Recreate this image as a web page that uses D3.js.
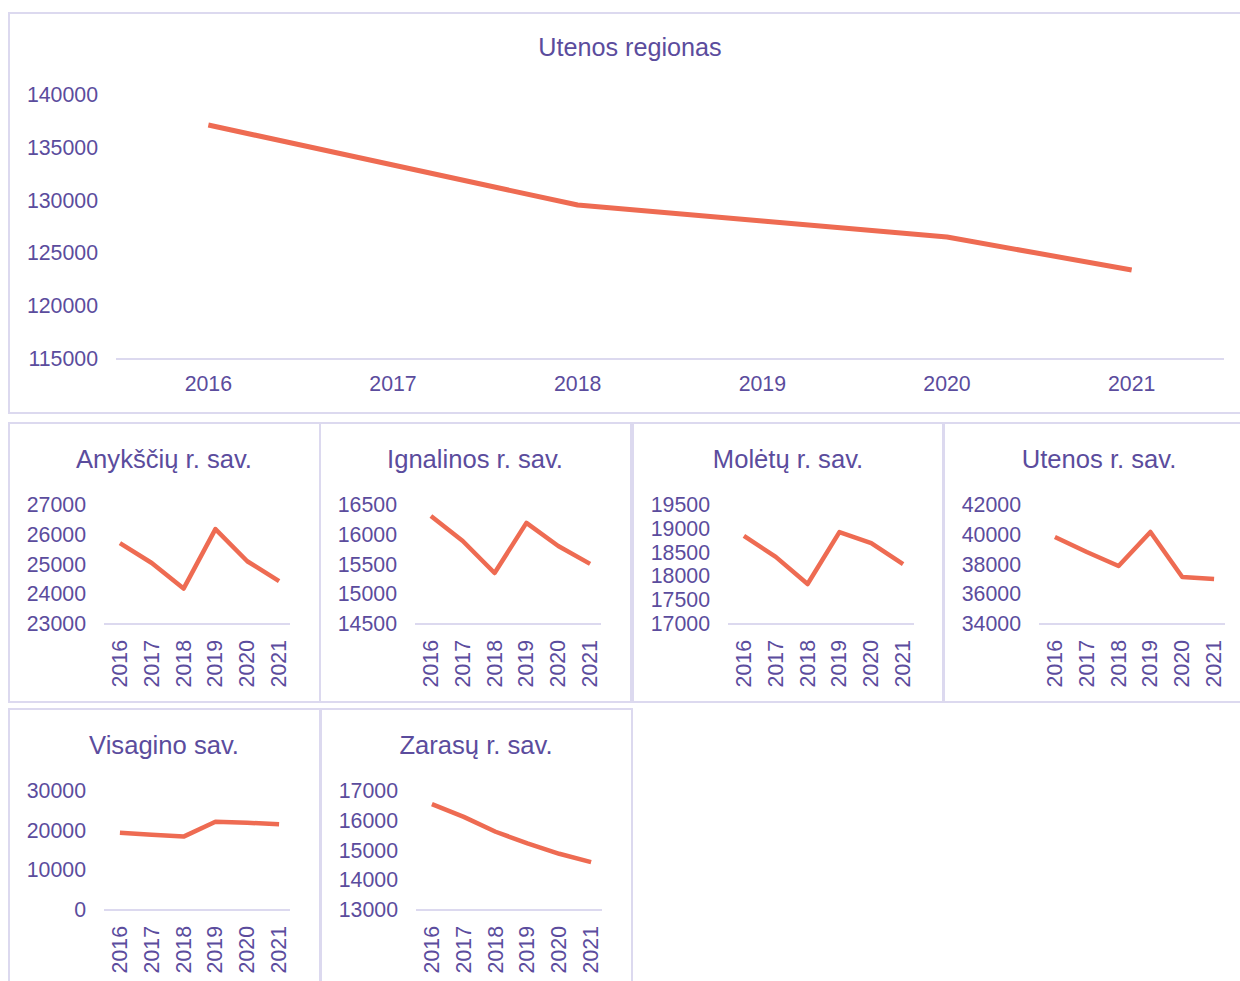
<!DOCTYPE html>
<html>
<head>
  <meta charset="UTF-8">
  <style>
    body { margin: 0; background: #fff; }
    text { font-family: "Liberation Sans", Arial, sans-serif; fill: #5b4c9d; }
    .frame { fill: none; stroke: #dcd9ef; stroke-width: 2px; }
    .baseline { stroke: #dcd9ef; stroke-width: 2px; }
    .series { fill: none; stroke: #ee6b52; stroke-linejoin: round; }
  </style>
</head>
<body>
<svg></svg>
<script src="https://d3js.org/d3.v7.min.js"></script>
<script>

// data
const years = ["2016", "2017", "2018", "2019", "2020", "2021"];

const regionTitle = "Utenos regionas";
const regionValues = [137160, 133370, 129580, 128070, 126550, 123430];
const regionTicks = [115000, 120000, 125000, 130000, 135000, 140000];

const panelTitles = ["Anykščių r. sav.", "Ignalinos r. sav.", "Molėtų r. sav.",
                     "Utenos r. sav.", "Visagino sav.", "Zarasų r. sav."];

const anyksciuValues = [25720, 25050, 24190, 26190, 25110, 24440];
const ignalinosValues = [16315, 15895, 15357, 16200, 15810, 15510];
const moletuValues = [18850, 18410, 17840, 18930, 18700, 18260];
const utenosValues = [39850, 38840, 37900, 40190, 37160, 37030];
const visaginoValues = [19500, 19000, 18500, 22250, 22000, 21600];
const zarasuValues = [16560, 16130, 15630, 15240, 14890, 14610];

const anyksciuTicks = [23000, 24000, 25000, 26000, 27000];
const ignalinosTicks = [14500, 15000, 15500, 16000, 16500];
const moletuTicks = [17000, 17500, 18000, 18500, 19000, 19500];
const utenosTicks = [34000, 36000, 38000, 40000, 42000];
const visaginoTicks = [0, 10000, 20000, 30000];
const zarasuTicks = [13000, 14000, 15000, 16000, 17000];

const panelValues = [anyksciuValues, ignalinosValues, moletuValues,
                     utenosValues, visaginoValues, zarasuValues];
const panelTicks = [anyksciuTicks, ignalinosTicks, moletuTicks,
                    utenosTicks, visaginoTicks, zarasuTicks];

let width = 1240, height = 981;

let svg = d3.select("svg")
    .attr("width", width)
    .attr("height", height);

// ---- big region chart
let main = svg.append("g");
main.append("rect").attr("class", "frame")
    .attr("x", 9).attr("y", 13).attr("width", 1250).attr("height", 400);

main.append("text")
    .attr("x", 630).attr("y", 47)
    .attr("text-anchor", "middle").attr("dominant-baseline", "central")
    .style("font-size", "25.2px")
    .text(regionTitle);

let xMain = d3.scaleBand().domain(years).range([116, 1224]);
let yMain = d3.scaleLinear()
    .domain([regionTicks[0], regionTicks[regionTicks.length - 1]])
    .range([359, 95]);

main.append("line").attr("class", "baseline")
    .attr("x1", 116).attr("x2", 1224)
    .attr("y1", yMain(regionTicks[0])).attr("y2", yMain(regionTicks[0]));

main.selectAll(".ytick")
  .data(regionTicks)
  .enter()
  .append("text")
    .attr("x", 98)
    .attr("y", d => yMain(d))
    .attr("text-anchor", "end").attr("dominant-baseline", "central")
    .style("font-size", "21.3px")
    .text(d => d);

main.selectAll(".xtick")
  .data(years)
  .enter()
  .append("text")
    .attr("x", d => xMain(d) + xMain.bandwidth() / 2)
    .attr("y", 384)
    .attr("text-anchor", "middle").attr("dominant-baseline", "central")
    .style("font-size", "21.3px")
    .text(d => d);

main.append("path")
    .datum(regionValues)
    .attr("class", "series")
    .attr("stroke-width", 5)
    .attr("d", d3.line()
        .x((d, i) => xMain(years[i]) + xMain.bandwidth() / 2)
        .y(d => yMain(d)));

// ---- small multiples
let panelLefts = [9, 320, 633, 944, 9, 321];
let panelTops = [423, 423, 423, 423, 709, 709];
let panelWidths = [311, 311, 310, 310, 311, 311];

panelTitles.forEach((title, k) => {
  let x0 = panelLefts[k], y0 = panelTops[k];
  let ticks = panelTicks[k];
  let g = svg.append("g").attr("transform", "translate(" + x0 + "," + y0 + ")");

  g.append("rect").attr("class", "frame")
      .attr("x", 0).attr("y", 0)
      .attr("width", panelWidths[k])
      .attr("height", y0 > 700 ? 300 : 279);

  g.append("text")
      .attr("x", 155).attr("y", 36)
      .attr("text-anchor", "middle").attr("dominant-baseline", "central")
      .style("font-size", "25.6px")
      .text(title);

  let x = d3.scaleBand().domain(years).range([95, 286]);
  let y = d3.scaleLinear()
      .domain([ticks[0], ticks[ticks.length - 1]])
      .range([201, 82]);

  g.append("line").attr("class", "baseline")
      .attr("x1", 95).attr("x2", 281)
      .attr("y1", 201).attr("y2", 201);

  g.selectAll(".ytick")
    .data(ticks)
    .enter()
    .append("text")
      .attr("x", 77)
      .attr("y", d => y(d))
      .attr("text-anchor", "end").attr("dominant-baseline", "central")
      .style("font-size", "21.3px")
      .text(d => d);

  g.selectAll(".xtick")
    .data(years)
    .enter()
    .append("text")
      .attr("transform", d => "translate(" + (x(d) + x.bandwidth() / 2) + "," + 217 + ") rotate(-90)")
      .attr("text-anchor", "end").attr("dominant-baseline", "central")
      .style("font-size", "21.3px")
      .text(d => d);

  g.append("path")
      .datum(panelValues[k])
      .attr("class", "series")
      .attr("stroke-width", 4.5)
      .attr("d", d3.line()
          .x((d, i) => x(years[i]) + x.bandwidth() / 2)
          .y(d => y(d)));
});

</script>
</body>
</html>
